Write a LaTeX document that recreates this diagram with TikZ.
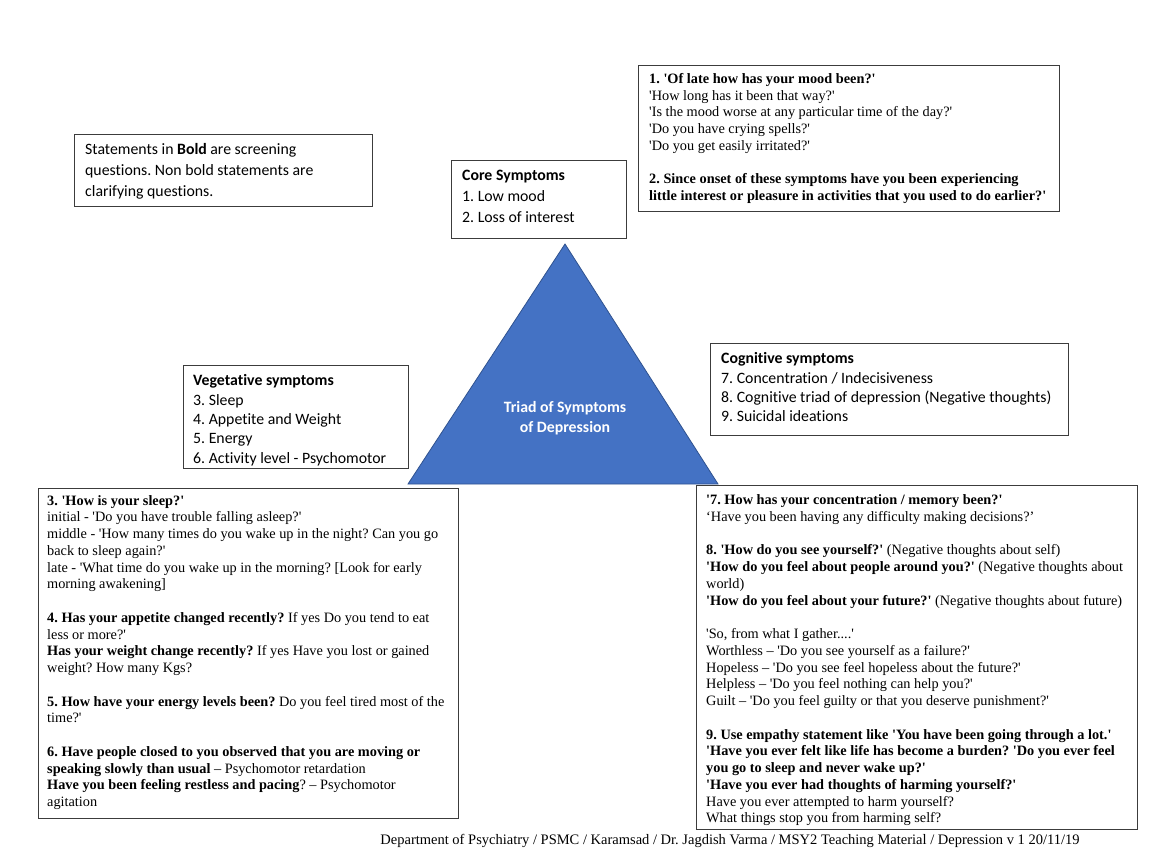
\documentclass[tikz,border=0pt]{standalone}
\usepackage{fontspec}
\setmainfont{Liberation Serif}[Ligatures=TeXOff]
\newfontfamily\calibri{Carlito}[Ligatures=NoCommon]
\definecolor{boxc}{RGB}{60,60,60}
\definecolor{trifill}{RGB}{68,114,196}
\definecolor{triline}{RGB}{47,82,143}
\frenchspacing
\tikzset{
  boxnode/.style={draw=boxc, line width=0.9pt, anchor=north west, inner sep=0pt, fill=white},
  sertext/.style={anchor=north west, inner sep=0pt, align=left, font=\frenchspacing\fontsize{14.3}{16.75}\selectfont},
  caltext/.style={anchor=north west, inner sep=0pt, align=left, font=\frenchspacing\calibri\fontsize{15.8}{19.4}\selectfont},
  calwide/.style={caltext, font=\frenchspacing\calibri\fontsize{15.8}{20.8}\selectfont},
  tri/.style={fill=trifill, draw=triline, line width=0.8pt}
}
\begin{document}
\begin{tikzpicture}[x=1pt,y=-1pt]
\useasboundingbox (0,0) rectangle (1168,861);
% note box
\node[boxnode, minimum width=298pt, minimum height=72pt] (notebox) at (74,134) {};
\node[calwide] (notetext) at (85,143.5) {Statements in \textbf{Bold} are screening\\questions. Non bold statements are\\clarifying questions.};
% core box
\node[boxnode, minimum width=175pt, minimum height=78pt] (corebox) at (451,160) {};
\node[calwide] (coretext) at (462,170) {\textbf{Core Symptoms}\\1. Low mood\\2. Loss of interest};
% top right
\node[boxnode, minimum width=421pt, minimum height=146pt] (moodbox) at (638,65) {};
\node[sertext] (moodtext) at (649,73) {\textbf{1. 'Of late how has your mood been?'}\\
'How long has it been that way?'\\
'Is the mood worse at any particular time of the day?'\\
'Do you have crying spells?'\\
'Do you get easily irritated?'\\[16.75pt]
\textbf{2. Since onset of these symptoms have you been experiencing}\\
\textbf{little interest or pleasure in activities that you used to do earlier?'}};
% triangle
\coordinate (apex) at (565,244);
\coordinate (bl) at (408,484);
\coordinate (br) at (718,484);
\filldraw[tri] (apex) -- (bl) -- (br) -- cycle;
\node[align=center, text=white, font=\calibri\bfseries\fontsize{15.8}{20}\selectfont, inner sep=0pt] (tritext) at (565,418) {Triad of Symptoms\\of Depression};
% vegetative
\node[boxnode, minimum width=225pt, minimum height=103pt] (vegbox) at (183,365) {};
\node[caltext] (vegtext) at (193,374.5) {\textbf{Vegetative symptoms}\\3. Sleep\\4. Appetite and Weight\\5. Energy\\6. Activity level - Psychomotor};
% cognitive
\node[boxnode, minimum width=358pt, minimum height=92pt] (cogbox) at (710,343) {};
\node[caltext] (cogtext) at (721,352.5) {\textbf{Cognitive symptoms}\\7. Concentration / Indecisiveness\\8. Cognitive triad of depression (Negative thoughts)\\9. Suicidal ideations};
% bottom left
\node[boxnode, minimum width=420pt, minimum height=330pt] (vegqbox) at (38,488) {};
\node[sertext] (vegqtext) at (47,495) {\textbf{3. 'How is your sleep?'}\\
initial - 'Do you have trouble falling asleep?'\\
middle - 'How many times do you wake up in the night? Can you go\\
back to sleep again?'\\
late - 'What time do you wake up in the morning? [Look for early\\
morning awakening]\\[16.75pt]
\textbf{4. Has your appetite changed recently?} If yes Do you tend to eat\\
less or more?'\\
\textbf{Has your weight change recently?} If yes Have you lost or gained\\
weight? How many Kgs?\\[16.75pt]
\textbf{5. How have your energy levels been?} Do you feel tired most of the\\
time?'\\[16.75pt]
\textbf{6. Have people closed to you observed that you are moving or}\\
\textbf{speaking slowly than usual} – Psychomotor retardation\\
\textbf{Have you been feeling restless and pacing}? – Psychomotor\\
agitation};
% bottom right
\node[boxnode, minimum width=441pt, minimum height=344pt] (cogqbox) at (696,485) {};
\node[sertext] (cogqtext) at (706,494.5) {\textbf{'7. How has your concentration / memory been?'}\\
‘Have you been having any difficulty making decisions?’\\[16.75pt]
\textbf{8. 'How do you see yourself?'} (Negative thoughts about self)\\
\textbf{'How do you feel about people around you?'} (Negative thoughts about\\
world)\\
\textbf{'How do you feel about your future?'} (Negative thoughts about future)\\[16.75pt]
'So, from what I gather....'\\
Worthless – 'Do you see yourself as a failure?'\\
Hopeless – 'Do you see feel hopeless about the future?'\\
Helpless – 'Do you feel nothing can help you?'\\
Guilt – 'Do you feel guilty or that you deserve punishment?'\\[16.75pt]
\textbf{9. Use empathy statement like 'You have been going through a lot.'}\\
\textbf{'Have you ever felt like life has become a burden? 'Do you ever feel}\\
\textbf{you go to sleep and never wake up?'}\\
\textbf{'Have you ever had thoughts of harming yourself?'}\\
Have you ever attempted to harm yourself?\\
What things stop you from harming self?};
% footer
\node[inner sep=0pt, font=\frenchspacing\fontsize{14.5}{16}\selectfont] (footer) at (730,841) {Department of Psychiatry / PSMC / Karamsad / Dr. Jagdish Varma / MSY2 Teaching Material / Depression v 1 20/11/19};
\end{tikzpicture}
\end{document}
